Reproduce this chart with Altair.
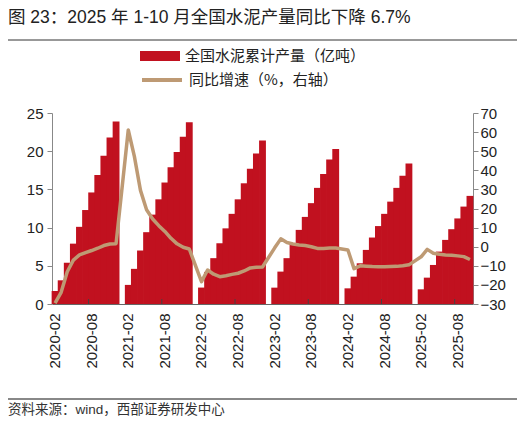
import altair as alt
import pandas as pd

# ---------------- data ----------------
years = [2020, 2021, 2022, 2023, 2024, 2025]

# cumulative production, 亿吨, Feb..Dec (2025: Feb..Oct)
prod_2020 = [1.7, 3.1, 5.4, 7.9, 10.1, 12.3, 14.6, 16.9, 19.4, 21.8, 23.9]
prod_2021 = [2.5, 4.6, 7.0, 9.4, 11.7, 13.7, 15.9, 17.9, 19.9, 21.9, 23.8]
prod_2022 = [2.15, 4.2, 6.0, 7.95, 9.9, 11.8, 13.7, 15.8, 17.7, 19.7, 21.4]
prod_2023 = [2.14, 4.24, 6.0, 7.9, 9.7, 11.4, 13.2, 15.2, 17.0, 18.9, 20.3]
prod_2024 = [2.05, 3.58, 5.33, 7.08, 8.7, 10.2, 11.8, 13.4, 15.2, 16.8, 18.4]
prod_2025 = [1.92, 3.45, 5.11, 6.86, 8.39, 9.79, 11.2, 12.75, 14.15]

# cumulative YoY growth, %, Feb..Dec (2025: Feb..Oct)
yoy_2020 = [-29.5, -23.9, -13.1, -7.0, -4.3, -3.1, -2.0, -0.8, 0.6, 1.4, 1.6]
yoy_2021 = [61.1, 47.3, 29.5, 19.3, 14.5, 11.0, 8.0, 4.4, 1.5, -0.3, -1.2]
yoy_2022 = [-18.3, -12.2, -14.4, -15.7, -15.2, -14.5, -13.9, -12.7, -11.1, -10.8, -10.6]
yoy_2023 = [-0.6, 4.1, 2.2, 1.4, 0.9, 0.6, 0.0, -0.9, -0.9, -0.7, -0.7]
yoy_2024 = [-1.7, -11.5, -10.0, -10.2, -10.4, -10.5, -10.5, -10.4, -10.3, -10.0, -9.5]
yoy_2025 = [-5.3, -1.4, -3.4, -4.0, -4.3, -4.5, -4.8, -5.2, -6.7]

S1 = "全国水泥累计产量（亿吨）"
S2 = "同比增速（%，右轴）"
TITLE = "图 23：2025 年 1-10 月全国水泥产量同比下降 6.7%"
SOURCE = "资料来源：wind，西部证券研发中心"

prod_by_year = dict(zip(years, [prod_2020, prod_2021, prod_2022, prod_2023, prod_2024, prod_2025]))
yoy_by_year = dict(zip(years, [yoy_2020, yoy_2021, yoy_2022, yoy_2023, yoy_2024, yoy_2025]))

months, prod, yoy = [], [], []
for yr in years:
    first = 2 if yr == 2020 else 1
    last = 10 if yr == 2025 else 12
    for m in range(first, last + 1):
        months.append(f"{yr}-{m:02d}")
        if m == 1:
            prod.append(None)
            yoy.append(None)
        else:
            prod.append(prod_by_year[yr][m - 2])
            yoy.append(yoy_by_year[yr][m - 2])

label_months = [f"{yr}-{m:02d}" for yr in years for m in (2, 8)]
tick_months = [f"{yr}-08" for yr in years]

df = pd.DataFrame({"month": months, "prod": prod, "yoy": yoy})
df["s1"] = S1
df["s2"] = S2
ann = pd.DataFrame({"k": [0]})

RED = "#C1111F"
TAN = "#BE9A74"
FONT = "Liberation Sans, Noto Sans CJK SC"
CJK = "Noto Sans CJK SC"

x_scale = alt.Scale(domain=months, paddingInner=0, paddingOuter=0)

bars = alt.Chart(df).transform_filter("isValid(datum.prod)").mark_bar(
    color=RED, width=alt.RelativeBandSize(1.12)
).encode(
    x=alt.X("month:N", scale=x_scale,
            axis=alt.Axis(values=label_months, labelAngle=-90, ticks=False, tickSize=0,
                          labelPadding=9, title=None, domainColor="#666")),
    y=alt.Y("prod:Q", scale=alt.Scale(domain=[0, 25], nice=False),
            axis=alt.Axis(values=[0, 5, 10, 15, 20, 25], title=None, orient="left",
                          tickSize=5, labelPadding=4)),
    color=alt.Color("s1:N", scale=alt.Scale(domain=[S1], range=[RED]),
                    legend=alt.Legend(orient="none", legendX=88, legendY=-77, title=None,
                                      symbolType="M-1,-0.25H1V0.25H-1Z", symbolSize=1600,
                                      symbolStrokeWidth=0, labelFontSize=15, labelFont=CJK,
                                      labelColor="#222", labelLimit=300, padding=0, labelOffset=5)),
)

ticks = alt.Chart(df).transform_filter(
    alt.FieldOneOfPredicate(field="month", oneOf=tick_months)
).mark_rule(color="#444", strokeWidth=1).encode(
    x=alt.X("month:N", bandPosition=0),
    y=alt.value(186),
    y2=alt.value(191),
)

line = alt.Chart(df).transform_filter("isValid(datum.yoy)").mark_line(
    strokeWidth=3.5, strokeJoin="round"
).encode(
    x=alt.X("month:N"),
    y=alt.Y("yoy:Q", scale=alt.Scale(domain=[-30, 70], nice=False),
            axis=alt.Axis(values=list(range(-30, 71, 10)), title=None, orient="right",
                          tickSize=5, labelPadding=2)),
    color=alt.Color("s2:N", scale=alt.Scale(domain=[S2], range=[TAN]),
                    legend=alt.Legend(orient="none", legendX=88, legendY=-55, title=None,
                                      symbolType="stroke", symbolSize=1600,
                                      symbolStrokeWidth=4, labelFontSize=15, labelFont=CJK,
                                      labelColor="#222", labelLimit=300, padding=0, labelOffset=5)),
)

title_t = alt.Chart(ann).mark_text(
    text=TITLE, align="left", baseline="middle", fontSize=17.5, font=FONT, color="#222"
).encode(x=alt.value(-44), y=alt.value(-95))

source_t = alt.Chart(ann).mark_text(
    text=SOURCE, align="left", baseline="middle", fontSize=13.5, font=FONT, color="#333"
).encode(x=alt.value(-44), y=alt.value(297))

rule_top = alt.Chart(ann).mark_rule(color="#333", strokeWidth=1).encode(
    x=alt.value(-46), x2=alt.value(465), y=alt.value(-73)
)
rule_bot = alt.Chart(ann).mark_rule(color="#888", strokeWidth=1.8).encode(
    x=alt.value(-46), x2=alt.value(465), y=alt.value(286)
)

chart = alt.layer(bars, ticks, line, title_t, source_t, rule_top, rule_bot).resolve_scale(
    y="independent", color="independent"
).resolve_legend(color="independent").properties(
    width=421, height=191,
    autosize=alt.AutoSizeParams(type="none"),
    padding={"left": 44, "top": 105, "right": 45, "bottom": 112},
).configure_view(strokeWidth=0).configure_axis(
    labelFont="Liberation Sans", labelFontSize=15, labelColor="#222", grid=False,
    domainColor="#888", tickColor="#888"
)

chart.save("out.html", embed_options={"renderer": "svg", "actions": False})
